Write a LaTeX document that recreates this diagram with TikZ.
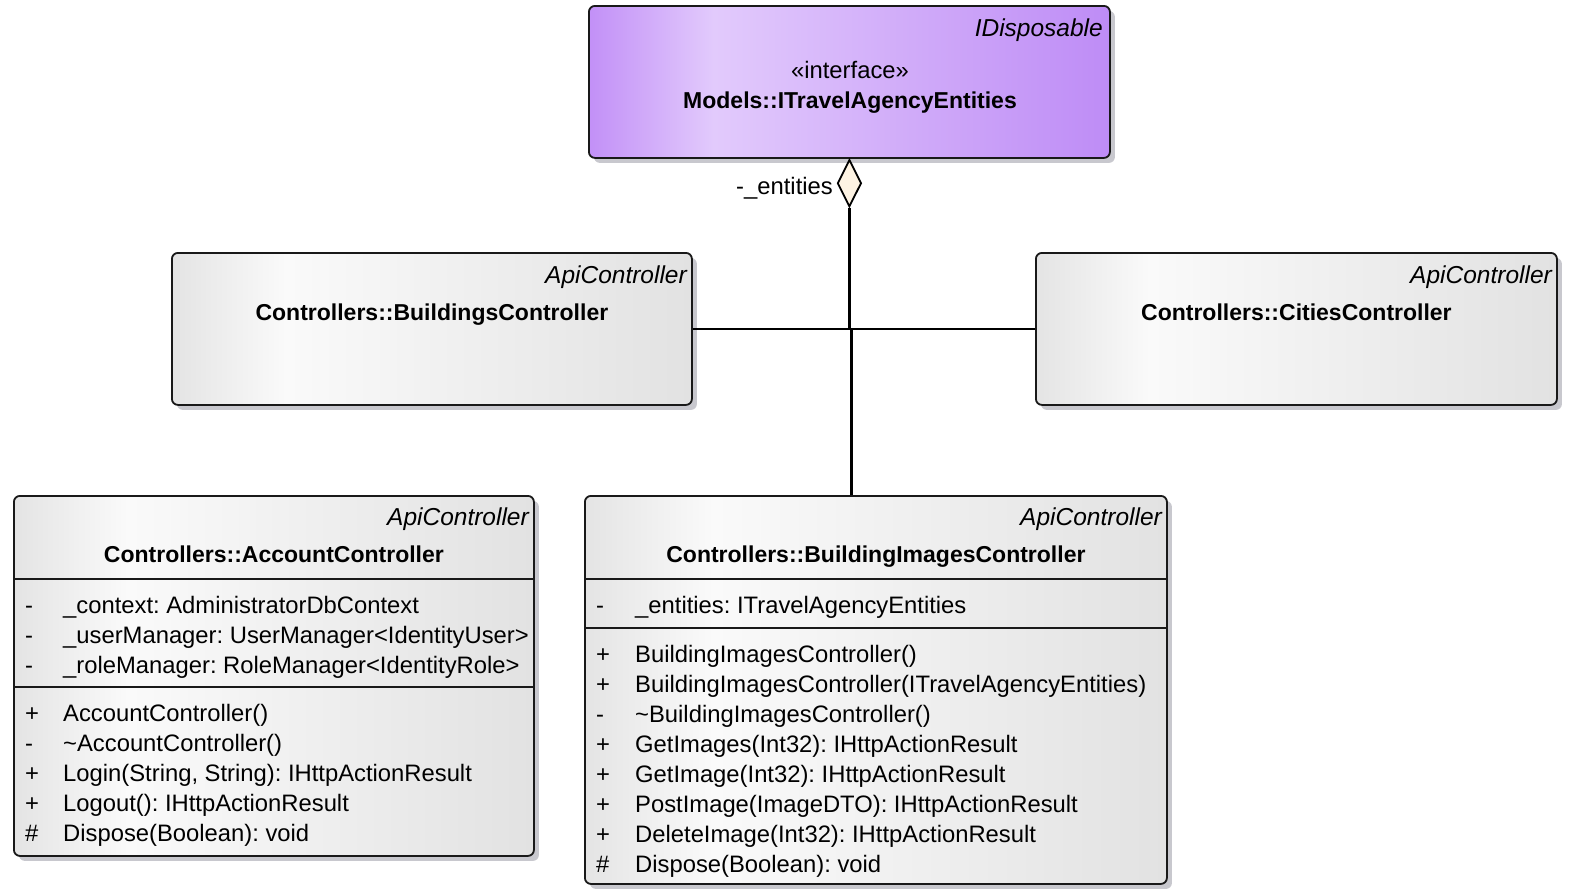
\documentclass[tikz,border=0pt]{standalone}
\usepackage{fontspec}
\setmainfont{Liberation Sans}
\usetikzlibrary{shapes.geometric,shadows}
\definecolor{gL}{RGB}{228,228,228}
\definecolor{gM}{RGB}{250,250,250}
\definecolor{gR}{RGB}{226,226,226}
\definecolor{pL}{RGB}{194,144,247}
\definecolor{pM}{RGB}{226,202,252}
\definecolor{pR}{RGB}{190,140,246}
\definecolor{shadowc}{RGB}{200,200,206}
\definecolor{cream}{RGB}{253,243,227}
\definecolor{edge}{RGB}{25,25,25}
\pgfdeclarehorizontalshading{grayshade}{100bp}{color(0bp)=(gL); color(25bp)=(gL); color(36bp)=(gM); color(75bp)=(gR); color(100bp)=(gR)}
\pgfdeclarehorizontalshading{purpleshade}{100bp}{color(0bp)=(pL); color(25bp)=(pL); color(37bp)=(pM); color(75bp)=(pR); color(100bp)=(pR)}
\frenchspacing
\begin{document}
\begin{tikzpicture}[x=1bp,y=-1bp,
  umlbox/.style={draw=edge, line width=1.8bp, rounded corners=6bp, shading=grayshade, inner sep=0bp, anchor=north west,
     drop shadow={shadow xshift=5bp, shadow yshift=-5bp, fill=shadowc, opacity=1}},
  ifbox/.style={umlbox, shading=purpleshade},
  sep/.style={draw=edge, line width=1.8bp},
  conn/.style={draw=black, line width=2.4bp},
  txt/.style={inner sep=0bp, font=\fontsize{23.8bp}{28bp}\selectfont},
  ttl/.style={inner sep=0bp, font=\fontsize{23bp}{28bp}\selectfont\bfseries},
  stereo/.style={inner sep=0bp, font=\fontsize{24.5bp}{28bp}\selectfont\itshape, anchor=base east},
  row/.style={txt, anchor=base west},
]
\begin{pgfinterruptboundingbox}
\fill[white] (0,0) rectangle (1578,889);

% ---- interface box
\node[ifbox, minimum width=521bp, minimum height=152bp] (ent) at (588,5) {};
\node[stereo] (entst) at (1103,36) {IDisposable};
\node[txt, anchor=base] (entif) at (850,78) {«interface»};
\node[ttl, anchor=base] (entnm) at (850,108) {Models::ITravelAgencyEntities};

% ---- BuildingsController
\node[umlbox, minimum width=520bp, minimum height=152bp] (bld) at (171,252) {};
\node[stereo] (bldst) at (687,283) {ApiController};
\node[ttl, anchor=base] (bldnm) at (bld.center |- 0,320) {Controllers::BuildingsController};

% ---- CitiesController
\node[umlbox, minimum width=521bp, minimum height=152bp] (cit) at (1035,252) {};
\node[stereo] (citst) at (1552,283) {ApiController};
\node[ttl, anchor=base] (citnm) at (cit.center |- 0,320) {Controllers::CitiesController};

% ---- AccountController
\node[umlbox, minimum width=520bp, minimum height=360bp] (acc) at (13,495) {};
\node[stereo] (accst) at (529,525) {ApiController};
\node[ttl, anchor=base] (accnm) at (acc.center |- 0,562) {Controllers::AccountController};
\draw[sep] (acc.west |- 0,579) -- (acc.east |- 0,579);
\draw[sep] (acc.west |- 0,687) -- (acc.east |- 0,687);
\foreach \s/\t/\y [count=\i] in {-/\_context: AdministratorDbContext/613,
  -/\_userManager: UserManager<IdentityUser>/643,
  -/\_roleManager: RoleManager<IdentityRole>/673,
  +/AccountController()/721,
  -/\textasciitilde AccountController()/751,
  +/{Login(String, String): IHttpActionResult}/781,
  +/Logout(): IHttpActionResult/811,
  \#/Dispose(Boolean): void/841}{
  \node[row] (accv\i) at (25,\y) {\s};
  \node[row] (acct\i) at (63,\y) {\t};
}

% ---- BuildingImagesController
\node[umlbox, minimum width=582bp, minimum height=388bp] (bim) at (584,495) {};
\node[stereo] (bimst) at (1162,525) {ApiController};
\node[ttl, anchor=base] (bimnm) at (bim.center |- 0,562) {Controllers::BuildingImagesController};
\draw[sep] (bim.west |- 0,579) -- (bim.east |- 0,579);
\draw[sep] (bim.west |- 0,628) -- (bim.east |- 0,628);
\foreach \s/\t/\y [count=\i] in {-/\_entities: ITravelAgencyEntities/613,
  +/BuildingImagesController()/662,
  +/BuildingImagesController(ITravelAgencyEntities)/692,
  -/\textasciitilde BuildingImagesController()/722,
  +/GetImages(Int32): IHttpActionResult/752,
  +/GetImage(Int32): IHttpActionResult/782,
  +/PostImage(ImageDTO): IHttpActionResult/812,
  +/DeleteImage(Int32): IHttpActionResult/842,
  \#/Dispose(Boolean): void/872}{
  \node[row] (bimv\i) at (596,\y) {\s};
  \node[row] (bimt\i) at (635,\y) {\t};
}

% ---- aggregation
\node[diamond, draw=black, line width=1.8bp, fill=cream, minimum width=24bp, minimum height=47bp, inner sep=0bp, anchor=north] (dia) at (ent.south) {};
\node[txt, anchor=base east] (rolelbl) at (833,194) {-\_entities};
\coordinate (j1) at (dia.south |- bld.east);
\coordinate (j2) at ([xshift=2bp]j1);
\draw[conn] (dia.south) -- (j1);
\draw[conn] (bld.east) -- (cit.west);
\draw[conn] (j2) -- (j2 |- bim.north);
\end{pgfinterruptboundingbox}
\useasboundingbox (0,0) rectangle (1578,889);
\end{tikzpicture}
\end{document}
